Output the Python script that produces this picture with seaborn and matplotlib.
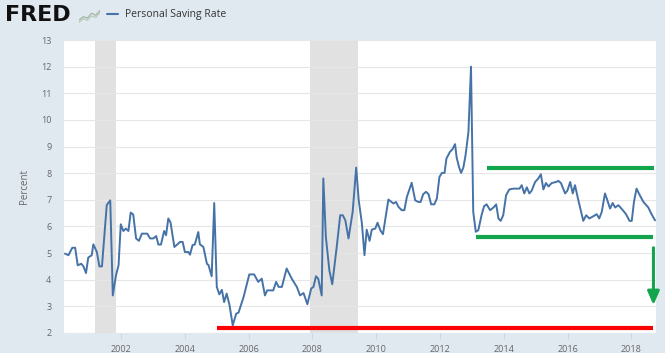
import numpy as np
import pandas as pd
import matplotlib.pyplot as plt
import seaborn as sns

# -------------------------------------------------------
# Data (decimal year, percent)
# -------------------------------------------------------
year = [
    2000.24, 2000.35, 2000.47, 2000.56, 2000.64, 2000.75, 2000.82, 2000.90, 2000.97, 2001.08,
    2001.13, 2001.24, 2001.32, 2001.40, 2001.55, 2001.66, 2001.74, 2001.84, 2001.92, 2001.99,
    2002.07, 2002.15, 2002.23, 2002.30, 2002.38, 2002.47, 2002.56, 2002.65, 2002.82, 2002.91,
    2003.01, 2003.10, 2003.17, 2003.25, 2003.35, 2003.41, 2003.48, 2003.55, 2003.67, 2003.74,
    2003.85, 2003.93, 2004.00, 2004.11, 2004.16, 2004.24, 2004.31, 2004.42, 2004.47, 2004.58,
    2004.69, 2004.74, 2004.84, 2004.92, 2005.00, 2005.08, 2005.16, 2005.23, 2005.31, 2005.40,
    2005.50, 2005.61, 2005.68, 2005.84, 2006.02, 2006.17, 2006.30, 2006.41, 2006.51, 2006.58,
    2006.69, 2006.77, 2006.86, 2006.94, 2007.04, 2007.19, 2007.35, 2007.51, 2007.61, 2007.72,
    2007.84, 2007.96, 2008.03, 2008.11, 2008.18, 2008.29, 2008.34, 2008.42, 2008.53, 2008.62,
    2008.76, 2008.87, 2008.95, 2009.03, 2009.13, 2009.26, 2009.37, 2009.45, 2009.55, 2009.63,
    2009.70, 2009.79, 2009.86, 2009.97, 2010.04, 2010.13, 2010.21, 2010.38, 2010.54, 2010.62,
    2010.70, 2010.80, 2010.88, 2010.96, 2011.11, 2011.22, 2011.32, 2011.39, 2011.47, 2011.56,
    2011.64, 2011.72, 2011.82, 2011.90, 2011.98, 2012.06, 2012.14, 2012.20, 2012.31, 2012.39,
    2012.47, 2012.52, 2012.60, 2012.66, 2012.73, 2012.80, 2012.89, 2012.97, 2013.04, 2013.12,
    2013.20, 2013.30, 2013.38, 2013.46, 2013.57, 2013.69, 2013.76, 2013.83, 2013.90, 2013.98,
    2014.07, 2014.17, 2014.30, 2014.49, 2014.56, 2014.64, 2014.72, 2014.80, 2014.87, 2014.98,
    2015.08, 2015.16, 2015.24, 2015.32, 2015.40, 2015.50, 2015.64, 2015.71, 2015.79, 2015.92,
    2015.99, 2016.08, 2016.16, 2016.23, 2016.34, 2016.49, 2016.58, 2016.68, 2016.80, 2016.91,
    2016.99, 2017.07, 2017.17, 2017.24, 2017.33, 2017.41, 2017.49, 2017.59, 2017.73, 2017.83,
    2017.94, 2018.01, 2018.08, 2018.16, 2018.25, 2018.37, 2018.53, 2018.63, 2018.74,
]
rate = [
    4.98, 4.92, 5.20, 5.20, 4.54, 4.60, 4.50, 4.25, 4.83, 4.92,
    5.33, 5.04, 4.50, 4.50, 6.80, 6.98, 3.41, 4.17, 4.54, 6.08,
    5.83, 5.92, 5.83, 6.52, 6.45, 5.55, 5.46, 5.73, 5.73, 5.55,
    5.55, 5.64, 5.32, 5.32, 5.83, 5.67, 6.30, 6.15, 5.23, 5.30,
    5.42, 5.42, 5.04, 5.04, 4.94, 5.30, 5.32, 5.79, 5.33, 5.23,
    4.60, 4.55, 4.13, 6.88, 3.73, 3.45, 3.62, 3.16, 3.48, 3.04,
    2.29, 2.73, 2.76, 3.35, 4.20, 4.20, 3.92, 4.04, 3.41, 3.60,
    3.60, 3.60, 3.92, 3.73, 3.73, 4.42, 4.04, 3.73, 3.41, 3.50,
    3.08, 3.67, 3.73, 4.13, 4.04, 3.41, 7.80, 5.60, 4.35, 3.83,
    5.23, 6.42, 6.42, 6.23, 5.55, 6.55, 8.21, 6.98, 6.11, 4.92,
    5.88, 5.46, 5.88, 5.92, 6.14, 5.85, 5.71, 7.01, 6.86, 6.92,
    6.73, 6.61, 6.61, 7.11, 7.64, 6.98, 6.92, 6.92, 7.21, 7.30,
    7.21, 6.83, 6.83, 7.05, 7.86, 8.01, 8.01, 8.55, 8.80, 8.90,
    9.09, 8.59, 8.21, 8.01, 8.21, 8.68, 9.55, 12.00, 6.55, 5.80,
    5.86, 6.42, 6.76, 6.83, 6.61, 6.73, 6.83, 6.30, 6.21, 6.42,
    7.17, 7.39, 7.42, 7.42, 7.55, 7.24, 7.47, 7.24, 7.34, 7.67,
    7.80, 7.96, 7.39, 7.63, 7.50, 7.63, 7.67, 7.71, 7.63, 7.24,
    7.34, 7.67, 7.24, 7.55, 6.96, 6.21, 6.42, 6.30, 6.38, 6.46,
    6.30, 6.55, 7.24, 7.00, 6.67, 6.88, 6.71, 6.80, 6.61, 6.46,
    6.21, 6.21, 6.93, 7.42, 7.20, 6.93, 6.71, 6.46, 6.23,
]

# recessions (start, end) in decimal years
recessions = [(2001.17, 2001.83), (2007.92, 2009.42)]

# hand-drawn markup: support line, range lines, arrow
red_level, red_span = 2.2, (2005.0, 2018.68)
green_top, green_top_span = 8.2, (2013.46, 2018.71)
green_bot, green_bot_span = 5.6, (2013.13, 2018.69)
arrow_x, arrow_from, arrow_to = 2018.69, 5.2, 3.05

x_ticks = [2002, 2004, 2006, 2008, 2010, 2012, 2014, 2016, 2018]
y_ticks = list(range(2, 14))

# little zigzag of the FRED logo icon
icon_a = [0.2, 0.45, 0.35, 0.7, 0.55, 0.9]
icon_b = [0.05, 0.3, 0.2, 0.5, 0.4, 0.75]

df = pd.DataFrame({"year": year, "rate": rate})

# -------------------------------------------------------
# Plot
# -------------------------------------------------------
bg = "#e1e9f0"
line_col = "#4572a7"
green = "#12a54b"

sns.set_style("white")
plt.rcParams['font.family'] = ['Open Sans', 'DejaVu Sans']

fig = plt.figure(figsize=(6.65, 3.53), dpi=100, facecolor=bg)
ax = fig.add_axes([64 / 665, 20 / 353, 592 / 665, 293 / 353])
ax.set_facecolor("white")

for start, end in recessions:
    ax.axvspan(start, end, color="#e1e1e1", lw=0, zorder=0)

sns.lineplot(data=df, x="year", y="rate", sort=False, color=line_col, lw=1.4, ax=ax, zorder=3)

ax.hlines(red_level, *red_span, color="#ff0000", lw=3, zorder=4)
ax.hlines(green_top, *green_top_span, color=green, lw=3, zorder=4)
ax.hlines(green_bot, *green_bot_span, color=green, lw=3, zorder=4)
ax.annotate("", xy=(arrow_x, arrow_to), xytext=(arrow_x, arrow_from),
            arrowprops=dict(arrowstyle="-|>,head_width=0.35,head_length=0.8",
                            color=green, lw=2.2, shrinkA=0, shrinkB=0), zorder=4)

ax.set_xlim(2000.21, 2018.77)
ax.set_ylim(2, 13)
ax.set_xticks(x_ticks)
ax.set_xticklabels([str(t) for t in x_ticks])
ax.set_yticks(y_ticks)
ax.grid(axis='y', color="#e6e6e6", lw=0.8)
ax.grid(axis='x', visible=False)
for s in ax.spines.values():
    s.set_visible(False)
ax.tick_params(axis='y', length=0, pad=9, labelsize=6.5, labelcolor="#666666")
ax.tick_params(axis='x', length=4, width=0.8, color="#ccd6eb", pad=5, labelsize=6.5,
               labelcolor="#666666", bottom=True)
ax.set_xlabel("")
ax.set_ylabel("Percent", fontsize=7, color="#666666", labelpad=8)

# header: logo + legend
fig.text(5 / 665, 1 - 15 / 353, "FRED", fontsize=16, fontweight='black',
         family='DejaVu Sans', color="#111111", va='center', ha='left')
icon = fig.add_axes([79 / 665, 1 - 23 / 353, 21 / 665, 14 / 353])
icon.plot(icon_a, color="#9fb7a4", lw=0.9)
icon.plot(icon_b, color="#b9c9bd", lw=0.9)
icon.set_xlim(0, 5)
icon.set_ylim(0, 1)
icon.axis("off")
fig.add_artist(plt.Line2D([107 / 665, 118 / 665], [1 - 14 / 353, 1 - 14 / 353],
                          color=line_col, lw=1.5))
fig.text(125 / 665, 1 - 14 / 353, "Personal Saving Rate", fontsize=7.5,
         color="#333333", va='center', ha='left')

fig.savefig("out.png", dpi=100, facecolor=bg)
plt.close(fig)
